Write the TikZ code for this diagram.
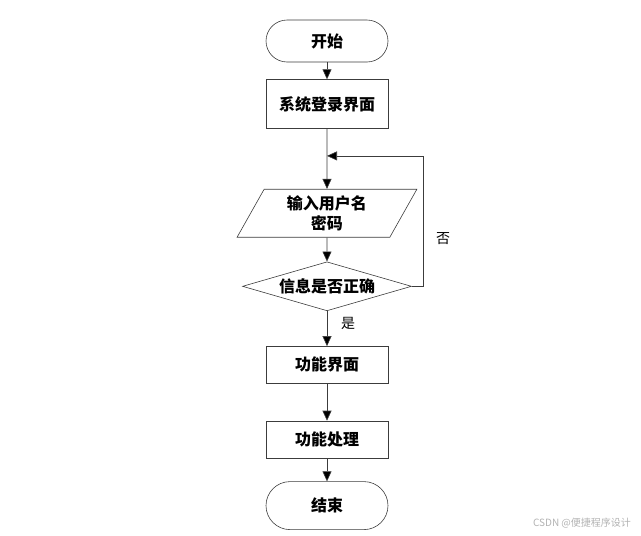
\documentclass[tikz,border=0pt]{standalone}
\usepackage{fontspec}
\newfontfamily\cjk{Noto Sans CJK SC}
\usepackage{tikz}
\usetikzlibrary{positioning,arrows.meta,shapes.geometric,calc}
\definecolor{linegray}{RGB}{60,60,60}
\tikzset{
  term-node/.style={draw=linegray, semithick, rounded corners=21pt,
    minimum width=122pt, minimum height=42pt, font=\cjk\bfseries\fontsize{16}{18}\selectfont,
    align=center, inner sep=0pt},
  proc-node/.style={draw=linegray, semithick, minimum width=122pt, minimum height=37pt,
    font=\cjk\bfseries\fontsize{16}{18}\selectfont, align=center, inner sep=0pt},
  io-node/.style={draw=linegray, semithick, trapezium, trapezium stretches=true,
    trapezium left angle=64, trapezium right angle=116,
    minimum width=180pt, minimum height=48pt,
    font=\cjk\bfseries\fontsize{16}{20}\selectfont, align=center, inner sep=0pt},
  test-node/.style={draw=linegray, semithick, diamond, aspect=3.45,
    minimum width=169pt, minimum height=49pt,
    font=\cjk\bfseries\fontsize{16}{18}\selectfont, align=center, inner sep=0pt},
  flow-arrow/.style={-{Triangle[length=10pt,width=9pt,fill=black]}, semithick, draw=linegray},
  branch-text/.style={font=\cjk\fontsize{14}{16}\selectfont}
}
\begin{document}
\begin{tikzpicture}[x=1pt, y=-1pt]
\useasboundingbox (0,0) rectangle (641,536);
% main column
\node[term-node] (start) at (327,41) {开始};
\node[proc-node, below=17pt of start, minimum height=49pt] (login) {系统登录界面};
\node[io-node, below=60pt of login] (input) {输入用户名\\密码};
\node[test-node, below=24pt of input] (check) {信息是否正确};
\node[proc-node, below=35pt of check] (menu) {功能界面};
\node[proc-node, below=37pt of menu] (work) {功能处理};
\node[term-node, below=23pt of work, minimum height=48pt, rounded corners=24pt] (stop) {结束};

\coordinate (back) at ($(login.south)+(0,27)$);

% connectors
\draw[flow-arrow] (start) -- (login);
\draw[flow-arrow] (login) -- (input);
\draw[flow-arrow] (input) -- (check);
\draw[flow-arrow] (check) -- (menu);
\draw[flow-arrow] (menu) -- (work);
\draw[flow-arrow] (work) -- (stop);
\draw[flow-arrow] (check.east) -- ++(11,0) |- (back);

% branch labels
\node[branch-text] (no) at (443,239) {否};
\node[branch-text] (yes) at (348,323) {是};

\node[font=\cjk\fontsize{10}{12}\selectfont, text=black!30] (mark) at (582,523) {CSDN @便捷程序设计};
\end{tikzpicture}
\end{document}
